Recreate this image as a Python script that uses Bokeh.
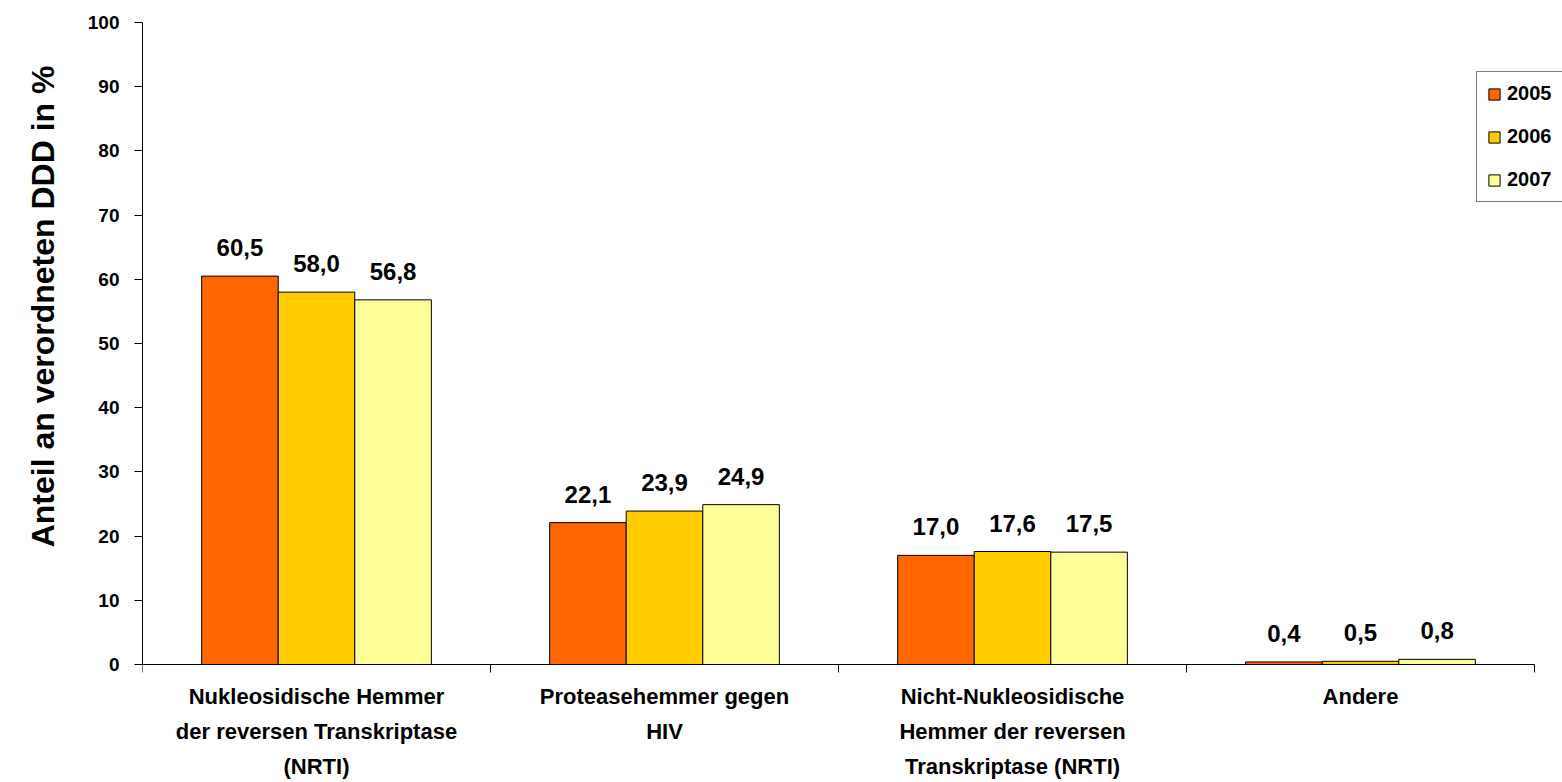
from bokeh.plotting import figure
from bokeh.models import Range1d, FixedTicker, ColumnDataSource, LabelSet, Legend, LegendItem, Title
from bokeh.transform import dodge
from bokeh.core.properties import value
from bokeh.embed import file_html
from bokeh.resources import INLINE

categories = [
    "Nukleosidische Hemmer\nder reversen Transkriptase\n(NRTI)",
    "Proteasehemmer gegen\nHIV",
    "Nicht-Nukleosidische\nHemmer der reversen\nTranskriptase (NRTI)",
    "Andere",
]
years = ["2005", "2006", "2007"]
v2005 = [60.5, 22.1, 17.0, 0.4]
v2006 = [58.0, 23.9, 17.6, 0.5]
v2007 = [56.8, 24.9, 17.5, 0.8]
y_ticks = [0, 10, 20, 30, 40, 50, 60, 70, 80, 90, 100]
y_title = "Anteil an verordneten DDD in %"
colors = ["#FF6600", "#FFCC00", "#FFFF99"]
offsets = [-0.22, 0.0, 0.22]

FONT = "Liberation Sans"

# layout constants (pixels)
W, H = 1562, 782
LEFT, TOP = 141, 22
AXIS_Y_PX = 664          # pixel row of the category axis
AXIS_RIGHT_PX = 1534     # pixel column where the category axis ends

n = len(categories)
centers = [i + 0.5 for i in range(n)]
bounds = [float(i) for i in range(n + 1)]

frame_w = W - LEFT
x_end = n * frame_w / (AXIS_RIGHT_PX - LEFT)
y_top = max(y_ticks)
y_start = -y_top * (H - AXIS_Y_PX) / (AXIS_Y_PX - TOP)

data = {"x": centers}
for yr, vals in zip(years, [v2005, v2006, v2007]):
    data[yr] = vals
    data["lbl" + yr] = [f"{v:.1f}".replace(".", ",") for v in vals]
src = ColumnDataSource(data)

p = figure(width=W, height=H, x_range=Range1d(0, x_end), y_range=Range1d(y_start, y_top),
           output_backend="svg", toolbar_location=None,
           min_border_left=LEFT, min_border_right=0, min_border_top=TOP, min_border_bottom=0)
p.outline_line_color = None
p.xgrid.visible = False
p.ygrid.visible = False
p.background_fill_color = "white"
p.border_fill_color = "white"

# x axis (category axis sitting at y = 0)
xa = p.xaxis[0]
xa.fixed_location = 0
xa.bounds = (bounds[0], bounds[-1])
xa.ticker = FixedTicker(ticks=centers, minor_ticks=bounds)
xa.major_label_overrides = {c: lab for c, lab in zip(centers, categories)}
xa.major_tick_line_color = None
xa.major_tick_out = 0
xa.major_tick_in = 0
xa.minor_tick_line_color = "black"
xa.minor_tick_out = 8
xa.minor_tick_in = 0
xa.axis_line_color = "black"
xa.major_label_text_font = FONT
xa.major_label_text_font_style = "bold"
xa.major_label_text_font_size = "22px"
xa.major_label_text_color = "black"
xa.major_label_text_line_height = 1.4
xa.major_label_standoff = 11

# y axis
ya = p.yaxis[0]
ya.bounds = (min(y_ticks), max(y_ticks))
ya.ticker = FixedTicker(ticks=y_ticks)
ya.major_tick_out = 8
ya.major_tick_in = 0
ya.minor_tick_line_color = None
ya.axis_line_color = "black"
ya.major_tick_line_color = "black"
ya.major_label_text_font = FONT
ya.major_label_text_font_style = "bold"
ya.major_label_text_font_size = "19px"
ya.major_label_text_color = "black"
ya.major_label_standoff = 15

# y title, aligned to the top part of the plot
yt = Title(text=y_title, align="right", offset=43, vertical_align="middle", standoff=46,
           text_font=FONT, text_font_style="bold", text_font_size="32px", text_color="black")
p.add_layout(yt, "left")

items = []
for yr, col, off in zip(years, colors, offsets):
    r = p.vbar(x=dodge("x", off, range=p.x_range), top=yr, width=0.22, source=src,
               fill_color=col, line_color="black", line_width=1)
    items.append(LegendItem(label=yr, renderers=[r]))
    labels = LabelSet(x=dodge("x", off, range=p.x_range), y=yr, text="lbl" + yr, source=src,
                      y_offset=20, text_align="center", text_baseline="alphabetic",
                      text_font=value(FONT), text_font_style="bold", text_font_size="24px",
                      text_color="black")
    p.add_layout(labels)

legend = Legend(items=items, location=(1334, 580), orientation="vertical")
legend.label_text_font = FONT
legend.label_text_font_style = "bold"
legend.label_text_font_size = "20px"
legend.label_text_color = "black"
legend.glyph_width = 14
legend.glyph_height = 14
legend.label_standoff = 6
legend.label_height = 22
legend.spacing = 20
legend.padding = 10
legend.margin = 0
legend.border_line_color = "black"
legend.border_line_width = 1.5
legend.background_fill_alpha = 1
p.add_layout(legend, "center")

open("out.html", "w").write(file_html(p, INLINE))
